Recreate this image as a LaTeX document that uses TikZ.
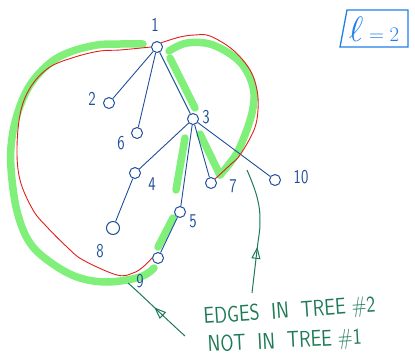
\documentclass[tikz,border=0pt]{standalone}
\usetikzlibrary{arrows.meta,decorations.markings}
\definecolor{ink}{HTML}{1F4E9A}
\definecolor{hilite}{HTML}{80F07A}
\definecolor{redpen}{HTML}{E0201C}
\definecolor{notegreen}{HTML}{1E7A57}
\definecolor{boxblue}{HTML}{1F7FE8}
\begin{document}
\begin{tikzpicture}[x=1pt,y=-1pt,
  vert/.style={circle,draw=ink,line width=1pt,minimum size=11pt,inner sep=0pt},
  num/.style={text=ink,font=\sffamily\fontsize{15}{15}\selectfont,inner sep=0pt},
  tedge/.style={draw=ink,line width=0.9pt},
  marker/.style={draw=hilite,line width=7.5pt,line cap=round,line join=round},
  redline/.style={draw=redpen,line width=0.9pt},
  note/.style={text=notegreen,font=\sffamily\fontsize{19}{20}\selectfont,inner sep=0pt},
  pointer/.style={draw=notegreen,line width=1pt,postaction={decorate}},
  tip at/.style={decoration={markings,
      mark=at position #1 with {\arrow{Triangle[open,length=12pt,width=9pt]}}}},
]
\useasboundingbox (0,0) rectangle (415,357);

% highlighted edges of the second tree
\draw[marker] plot[smooth,tension=0.6] coordinates {(143,44) (120,44) (97,45) (70,52) (50,63) (30,85) (17,115) (11,147) (12,180) (18,215) (30,243) (50,262) (77,277) (107,282) (140,277) (154,268)};
\draw[marker] plot[smooth,tension=0.6] coordinates {(169,51) (187,43) (213,45) (240,62) (253,87) (252,113) (240,147) (230,163) (220,175)};
\draw[marker] (220,175) -- (200,134);
\draw[marker] (170,58) -- (195,108);
\draw[marker] (185,138) -- (176,190);
\draw[marker] (173,218) -- (158,247);

% vertices
\node[vert] (n1) at (157,47) {};
\node[vert] (n2) at (109,103) {};
\node[vert] (n6) at (137,133) {};
\node[vert] (n3) at (193,119) {};
\node[vert] (n4) at (135,173) {};
\node[vert] (n7) at (211,183) {};
\node[vert] (n10) at (275,180) {};
\node[vert] (n5) at (180,212) {};
\node[vert,minimum size=13pt] (n8) at (113,228) {};
\node[vert] (n9) at (158,258) {};

% vertex numbers
\node[num] (l1) at (155,25) {\scalebox{1}[1.3]{1}};
\node[num] (l2) at (92,99) {\scalebox{1}[1.3]{2}};
\node[num] (l6) at (121,143) {\scalebox{1}[1.3]{6}};
\node[num] (l3) at (206,117) {\scalebox{1}[1.3]{3}};
\node[num] (l4) at (152,184) {\scalebox{1}[1.3]{4}};
\node[num] (l7) at (233,186) {\scalebox{1}[1.3]{7}};
\node[num] (l10) at (301,177) {\scalebox{1}[1.3]{10}};
\node[num] (l5) at (193,221) {\scalebox{1}[1.3]{5}};
\node[num] (l8) at (100,251) {\scalebox{1}[1.3]{8}};
\node[num] (l9) at (140,281) {\scalebox{1}[1.3]{9}};

% first tree
\draw[tedge] (n1) -- (n2);
\draw[tedge] (n1) -- (n6);
\draw[tedge] (n1) -- (n3);
\draw[tedge] (n3) -- (n4);
\draw[tedge] (n3) -- (n5);
\draw[tedge] (n3) -- (n7);
\draw[tedge] (n3) -- (n10);
\draw[tedge] (n4) -- (n8);
\draw[tedge] (n5) -- (n9);

% non-tree edges 1-9 and 1-7
\draw[redline] plot[smooth,tension=0.6] coordinates {(n1.west) (120,50) (100,51) (75,57) (50,67) (32,85) (21,110) (17,147) (20,180) (33,210) (47,227) (67,247) (83,260) (117,275) (133,273) (143,267) (n9.west)};
\draw[redline] plot[smooth,tension=0.6] coordinates {(n1.north east) (180,37) (195,35) (210,36) (233,50) (250,70) (257,90) (258,110) (254,130) (240,155) (230,165) (n7.north east)};

% annotation
\node[note,anchor=base west,rotate=4] (note1) at (204,324) {\scalebox{1}[1.2]{EDGES\ \ IN\ \ TREE\ \#2}};
\node[note,anchor=base west,rotate=3] (note2) at (208,352) {\scalebox{1}[1.2]{NOT\ \ IN\ \ TREE\ \#1}};
\coordinate (aimR) at (247,170);
\coordinate (aimL) at (128,283);
\coordinate (fromR) at (252,293);
\coordinate (fromL) at (185,336);
\draw[pointer,tip at=0.37] plot[smooth,tension=0.7] coordinates {(fromR) (257,250) (260,222) (257,197) (aimR)};
\draw[pointer,tip at=0.54] (fromL) .. controls (165,318) and (145,298) .. (aimL);

% parameter box
\draw[boxblue,line width=1.3pt,line cap=round] (347,10) -- (408,10) -- (408,47) -- (340,47) -- cycle;
\node[text=boxblue,font=\fontsize{20}{20}\selectfont,inner sep=0pt] (param) at (374,29) {$\scalebox{1.7}{$\ell$} = 2$};
\end{tikzpicture}
\end{document}
